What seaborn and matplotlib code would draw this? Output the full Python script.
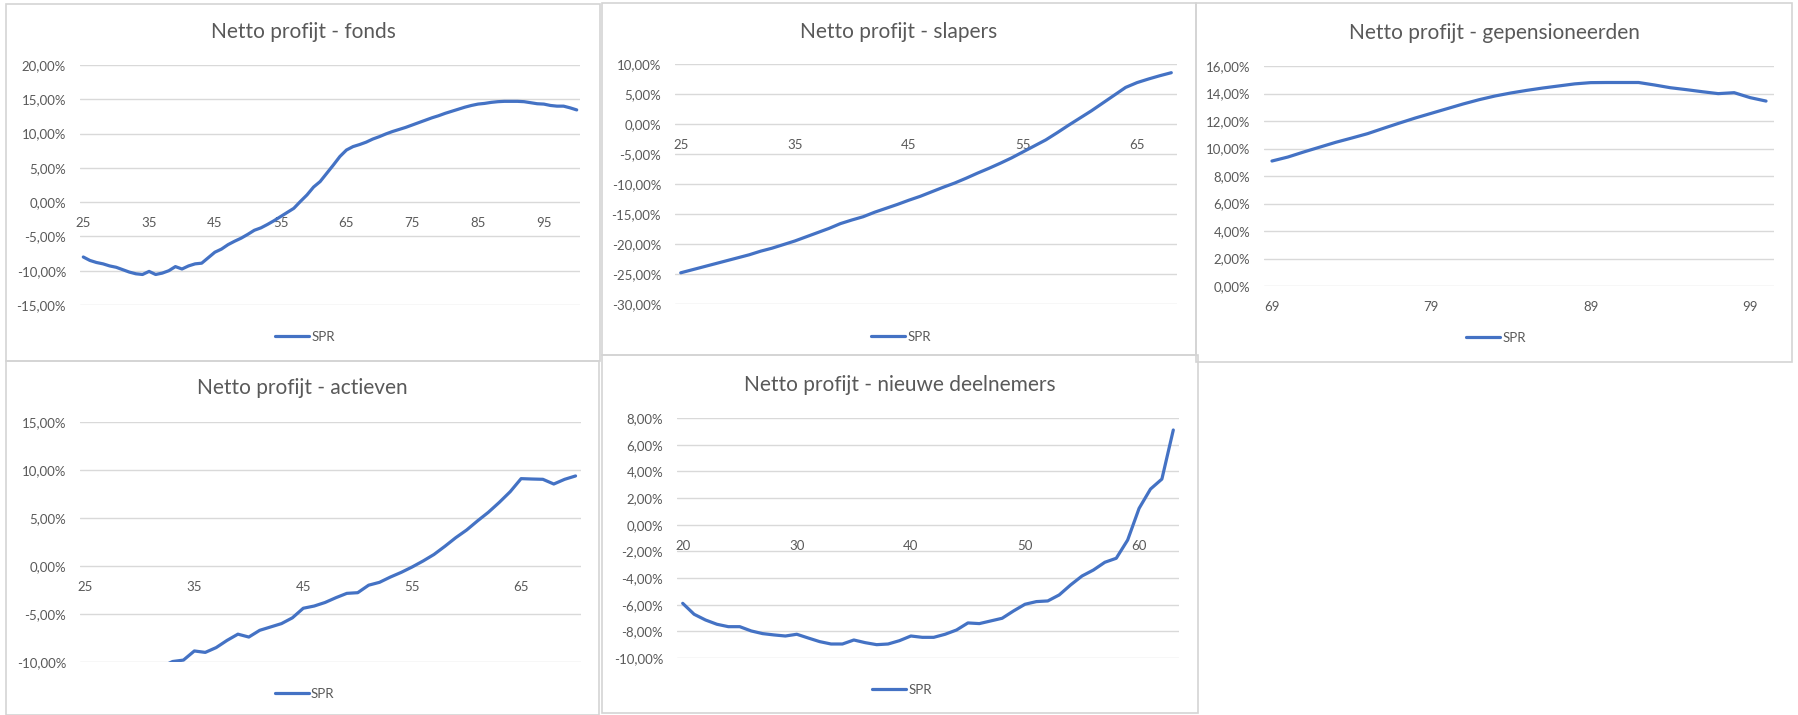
import matplotlib
matplotlib.use("Agg")
import matplotlib.pyplot as plt
from matplotlib.patches import Rectangle
from matplotlib.ticker import FuncFormatter, MultipleLocator
import seaborn as sns
import pandas as pd

# --- data (netto profijt in %, per leeftijd) ---
fonds_ages = list(range(25, 101))
fonds_values = [
    -8.0, -8.5, -8.8, -9.0, -9.3, -9.5, -9.85, -10.2, -10.45, -10.55,
    -10.1, -10.55, -10.35, -10.0, -9.4, -9.75, -9.3, -9.0, -8.9, -8.1,
    -7.3, -6.85, -6.2, -5.7, -5.25, -4.7, -4.1, -3.75, -3.25, -2.7,
    -2.1, -1.5, -0.9, 0.1, 1.05, 2.2, 3.0, 4.2, 5.4, 6.65,
    7.6, 8.1, 8.4, 8.75, 9.2, 9.55, 9.95, 10.3, 10.6, 10.9,
    11.25, 11.6, 11.95, 12.3, 12.6, 12.95, 13.25, 13.55, 13.85, 14.1,
    14.3, 14.4, 14.55, 14.65, 14.7, 14.7, 14.7, 14.65, 14.5, 14.35,
    14.3, 14.1, 14.0, 14.0, 13.75, 13.45,
]

slapers_ages = list(range(25, 69))
slapers_values = [
    -24.8, -24.3, -23.8, -23.3, -22.8, -22.3, -21.8, -21.2, -20.7, -20.1,
    -19.5, -18.8, -18.1, -17.4, -16.6, -16.0, -15.45, -14.7, -14.05, -13.4,
    -12.7, -12.05, -11.3, -10.55, -9.85, -9.05, -8.2, -7.4, -6.55, -5.65,
    -4.65, -3.65, -2.65, -1.45, -0.2, 1.0, 2.2, 3.5, 4.8, 6.1,
    6.9, 7.5, 8.05, 8.55,
]

gepens_ages = list(range(69, 101))
gepens_values = [
    9.09, 9.38, 9.75, 10.1, 10.45, 10.76, 11.08, 11.47, 11.85, 12.22,
    12.56, 12.9, 13.24, 13.55, 13.82, 14.04, 14.23, 14.4, 14.55, 14.7,
    14.79, 14.8, 14.8, 14.8, 14.62, 14.42, 14.28, 14.13, 13.99, 14.06,
    13.7, 13.45,
]

actieven_ages = list(range(25, 71))
actieven_values = [
    -13.5, -13.1, -12.7, -12.2, -11.8, -11.4, -11.0, -10.5, -9.95, -9.8,
    -8.85, -9.0, -8.5, -7.75, -7.1, -7.4, -6.7, -6.35, -6.0, -5.4,
    -4.4, -4.17, -3.8, -3.3, -2.85, -2.78, -2.0, -1.7, -1.15, -0.66,
    -0.1, 0.52, 1.2, 2.05, 2.95, 3.75, 4.7, 5.6, 6.63, 7.74,
    9.1, 9.06, 9.03, 8.54, 9.03, 9.38,
]

nieuw_ages = list(range(20, 64))
nieuw_values = [
    -5.9, -6.72, -7.15, -7.47, -7.65, -7.65, -7.97, -8.17, -8.27, -8.35,
    -8.22, -8.5, -8.77, -8.95, -8.95, -8.65, -8.85, -9.0, -8.95, -8.7,
    -8.35, -8.45, -8.45, -8.22, -7.9, -7.37, -7.42, -7.22, -7.02, -6.47,
    -5.97, -5.77, -5.72, -5.27, -4.52, -3.85, -3.4, -2.82, -2.52, -1.15,
    1.22, 2.67, 3.42, 7.1,
]

W, H = 1798, 715
BLUE = "#4472C4"
GREY_TXT = "#595959"
GRID = "#d9d9d9"

sns.set_style("white")
plt.rcParams["font.family"] = ["Lato", "DejaVu Sans"]

fig = plt.figure(figsize=(W / 100, H / 100), dpi=100)
fig.patch.set_facecolor("white")


def pct(v, pos=None):
    return f"{v:.2f}%".replace(".", ",")


def draw_panel(title, ages, values, box, plot, ylim, ystep, xticks, title_y, legend_y):
    x0, y0, x1, y1 = box
    fig.patches.append(Rectangle((x0 / W, 1 - y1 / H), (x1 - x0) / W, (y1 - y0) / H,
                                 transform=fig.transFigure, fill=False,
                                 edgecolor="#d4d4d4", linewidth=1.2))
    px0, py0, px1, py1 = plot
    ax = fig.add_axes([px0 / W, 1 - py1 / H, (px1 - px0) / W, (py1 - py0) / H])
    ax.set_facecolor("none")

    df = pd.DataFrame({"leeftijd": ages, "SPR": values})
    sns.lineplot(data=df, x="leeftijd", y="SPR", color=BLUE, linewidth=2.3,
                 label="SPR", ax=ax, legend=False)

    ax.set_xlim(ages[0] - 0.5, ages[-1] + 0.5)
    ax.set_ylim(*ylim)
    ax.yaxis.set_major_locator(MultipleLocator(ystep))
    ax.yaxis.set_major_formatter(FuncFormatter(pct))
    ax.grid(axis="y", color=GRID, linewidth=1)
    ax.set_axisbelow(True)
    for s in ax.spines.values():
        s.set_visible(False)
    if ylim[0] < 0:
        ax.spines["bottom"].set_position(("data", 0))
    ax.set_xticks(xticks)
    ax.set_xticklabels([str(t) for t in xticks])
    ax.tick_params(axis="both", length=0, labelsize=9.5, labelcolor=GREY_TXT)
    ax.tick_params(axis="x", pad=11)
    ax.tick_params(axis="y", pad=10)
    ax.set(xlabel=None, ylabel=None)

    cx = (x0 + x1) / 2 / W
    fig.text(cx, 1 - title_y / H, title, ha="center", va="center",
             fontsize=15, color=GREY_TXT)
    handles, labels = ax.get_legend_handles_labels()
    fig.legend(handles, labels, loc="center", bbox_to_anchor=(cx + 2 / W, 1 - legend_y / H),
               frameon=False, fontsize=9.5, labelcolor=GREY_TXT,
               handlelength=2.6, handletextpad=0.15)
    return ax


draw_panel("Netto profijt - fonds", fonds_ages, fonds_values,
           (6, 4, 600, 361), (80, 65, 580, 305), (-15, 20), 5,
           [25, 35, 45, 55, 65, 75, 85, 95], 32, 337)
draw_panel("Netto profijt - slapers", slapers_ages, slapers_values,
           (602, 3, 1196, 355), (675, 64, 1177, 304), (-30, 10), 5,
           [25, 35, 45, 55, 65], 32, 337)
draw_panel("Netto profijt - gepensioneerden", gepens_ages, gepens_values,
           (1196, 3, 1792, 362), (1264, 66, 1774, 286), (0, 16), 2,
           [69, 79, 89, 99], 33, 338)
draw_panel("Netto profijt - actieven", actieven_ages, actieven_values,
           (6, 361, 599, 715), (80, 422, 581, 662), (-10, 15), 5,
           [25, 35, 45, 55, 65], 388, 694)
draw_panel("Netto profijt - nieuwe deelnemers", nieuw_ages, nieuw_values,
           (602, 355, 1198, 713), (677, 418, 1179, 658), (-10, 8), 2,
           [20, 30, 40, 50, 60], 385, 690)

fig.savefig("out.png", dpi=100, facecolor="white")
